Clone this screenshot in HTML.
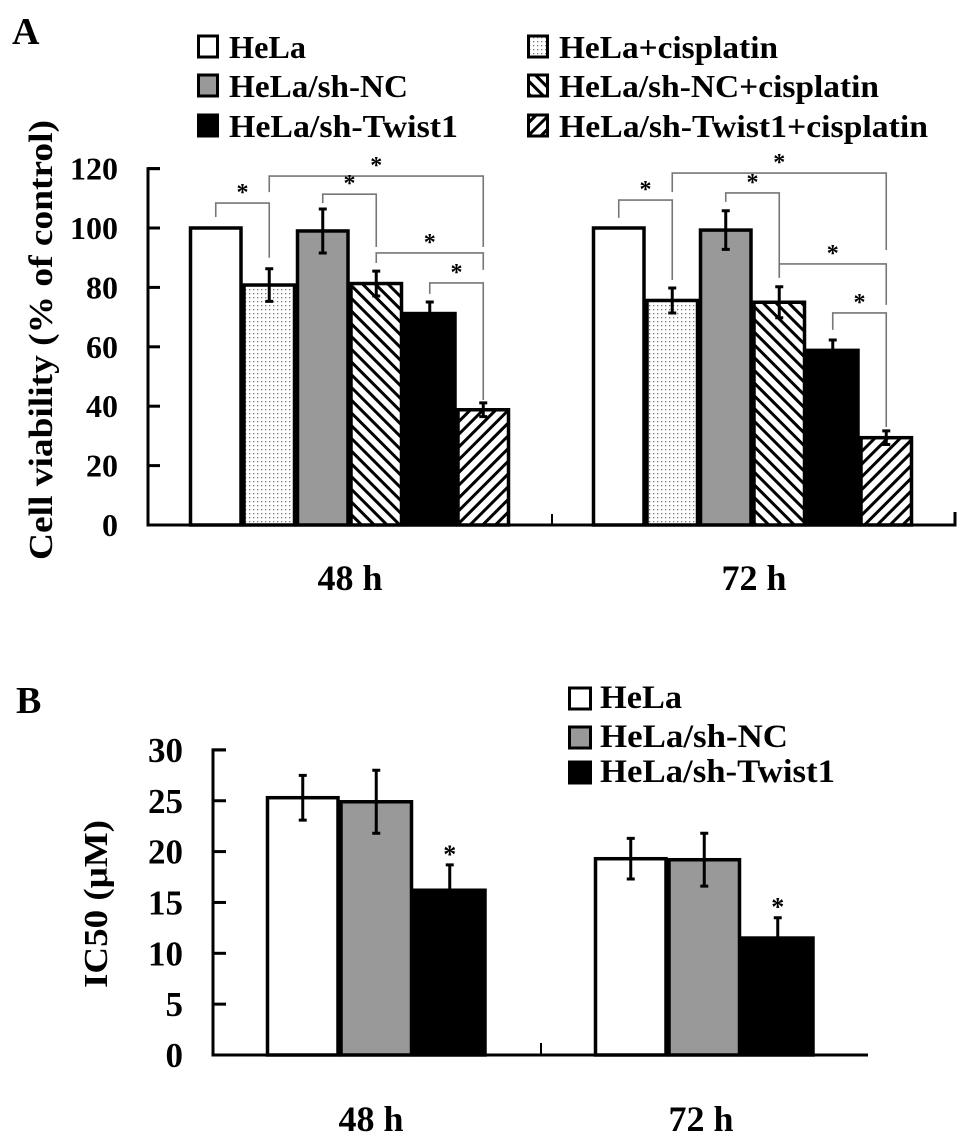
<!DOCTYPE html>
<html><head><meta charset="utf-8"><style>
html,body{margin:0;padding:0;background:#fff;}
svg{display:block;}
text{font-family:"Liberation Serif",serif;font-weight:bold;fill:#000;}
</style></head><body>
<svg id="fig" width="969" height="1136" viewBox="0 0 969 1136" xmlns="http://www.w3.org/2000/svg">
<defs>
<pattern id="dots" width="4" height="4" patternUnits="userSpaceOnUse"><rect width="4" height="4" fill="#fff"/><rect x="1" y="1" width="1.3" height="1.3" fill="#777"/></pattern>
<pattern id="back" width="9" height="9" patternUnits="userSpaceOnUse" patternTransform="rotate(-45)"><rect width="9" height="9" fill="#fff"/><rect x="0" y="0" width="3" height="9" fill="#000"/></pattern>
<pattern id="fwd" width="9" height="9" patternUnits="userSpaceOnUse" patternTransform="rotate(45)"><rect width="9" height="9" fill="#fff"/><rect x="0" y="0" width="3" height="9" fill="#000"/></pattern>
</defs>
<g id="panelA"></g>
<g id="panelB"></g>
</svg>
<script>
// ---- Panel A data ----
const aGroups = ["48 h", "72 h"];
const aSeries = ["HeLa","HeLa+cisplatin","HeLa/sh-NC","HeLa/sh-NC+cisplatin","HeLa/sh-Twist1","HeLa/sh-Twist1+cisplatin"];
const a48 = [100, 80.8, 99.0, 81.3, 71.2, 38.8];
const a72 = [100, 75.6, 99.3, 75.0, 58.8, 29.4];
const a48Err = [0, 5.5, 7.4, 4.2, 3.9, 2.3];
const a72Err = [0, 4.2, 6.5, 5.2, 3.5, 2.3];
const aTicks = [0, 20, 40, 60, 80, 100, 120];
// brackets: [i, j, level, leftEnd, rightEnd]
const a48Brackets = [[0,1,108.4,103.7,90],[1,5,117.5,112.1,93.6],[2,3,111.4,108.4,93.6],[3,5,91.6,88.2,85.9],[4,5,81.5,77.8,42.1]];
const a72Brackets = [[0,1,109.4,103.4,82.5],[1,5,118.5,112.1,92.6],[2,3,111.8,108.8,83.2],[3,5,87.9,83.5,74.1],[4,5,71.4,65.7,33]];
// ---- Panel B data ----
const bGroups = ["48 h", "72 h"];
const bSeries = ["HeLa","HeLa/sh-NC","HeLa/sh-Twist1"];
const b48 = [25.3, 24.9, 16.2];
const b72 = [19.3, 19.2, 11.5];
const b48Err = [2.2, 3.1, 2.5];
const b72Err = [2.0, 2.6, 2.0];
const bTicks = [0, 5, 10, 15, 20, 25, 30];

const NS = "http://www.w3.org/2000/svg";
function mk(parent, tag, attrs, txt){
  const e = document.createElementNS(NS, tag);
  for (const k in attrs) e.setAttribute(k, attrs[k]);
  if (txt !== undefined) e.textContent = txt;
  parent.appendChild(e); return e;
}
const aFills = ["#fff","url(#dots)","#999","url(#back)","#000","url(#fwd)"];
const bFills = ["#fff","#999","#000"];

// ===== Panel A =====
const A = document.getElementById('panelA');
const ay = v => 525 - v * 2.97;
const aBarW = 53.5, aStarts = [189, 592];
let t = mk(A,'text',{x:12,y:44,'font-size':38}, 'A');


// legend
const legA = [[197,58,0],[197,97,2],[197,137,4],[527,58,1],[527,97,3],[527,137,5]];
const legAW = [77,179,229,219,320,369];
legA.forEach(([x,y,s],k)=>{
  const g = mk(A,'g',{});
  
  
  mk(g,'rect',{x:x+1.5,y:y-22,width:19,height:21,fill:aFills[s],stroke:'#000','stroke-width':3});
  mk(g,'text',{x:x+32,y:y,'font-size':32,textLength:legAW[k],lengthAdjust:'spacingAndGlyphs'}, aSeries[s]);
});
// axes
let ax = mk(A,'path',{d:`M160 ${ay(120)} H148 V525 H955 V512`,fill:'none',stroke:'#000','stroke-width':3});


mk(A,'path',{d:'M552 525 V514',stroke:'#000','stroke-width':2});
aTicks.forEach(v=>{
  mk(A,'path',{d:`M148 ${ay(v)} H160`,stroke:'#000','stroke-width':3});
  const tl = mk(A,'text',{x:118,y:ay(v)+11,'font-size':32,'text-anchor':'end'}, String(v));
  
  
});
let yl = mk(A,'text',{x:0,y:0,'font-size':34,'text-anchor':'middle',transform:'translate(52,340) rotate(-90)',textLength:440,lengthAdjust:'spacingAndGlyphs'},'Cell viability (% of control)');


[a48,a72].forEach((vals,gi)=>{
  const errs = gi===0 ? a48Err : a72Err;
  const brs = gi===0 ? a48Brackets : a72Brackets;
  const x0 = aStarts[gi];
  const cx = i => x0 + aBarW*i + aBarW/2;
  vals.forEach((v,i)=>{
    const r = mk(A,'rect',{x:x0+aBarW*i+1.5,y:ay(v),width:aBarW-3,height:525-ay(v),fill:aFills[i],stroke:'#000','stroke-width':3.5});
    
    
    const e = errs[i];
    if (e>0){
      const lo = i===4 ? v : v-e;
      mk(A,'path',{d:`M${cx(i)} ${ay(v+e)} V${ay(lo)} M${cx(i)-4} ${ay(v+e)} H${cx(i)+4}`+(i===4?'':` M${cx(i)-4} ${ay(lo)} H${cx(i)+4}`),stroke:'#000','stroke-width':3,fill:'none'});
    }
  });
  brs.forEach(([i,j,lv,le,re])=>{
    const p = mk(A,'path',{d:`M${cx(i)} ${ay(le)} V${ay(lv)} H${cx(j)} V${ay(re)}`,fill:'none',stroke:'#777','stroke-width':1.6});
    
    
    mk(A,'text',{x:(cx(i)+cx(j))/2,y:ay(lv)-3,'font-size':24,'font-weight':'normal','text-anchor':'middle'},'*');
  });
  const cl = mk(A,'text',{x:[350,754][gi],y:590,'font-size':36,'text-anchor':'middle'},aGroups[gi]);
  
  
});

// ===== Panel B =====
const B = document.getElementById('panelB');
const by = v => 1055 - v * 10.17;
const bBarW = 73.5, bStarts = [266, 594];
t = mk(B,'text',{x:16,y:713,'font-size':38}, 'B');


const legBW = [82,188,235];
bSeries.forEach((s,k)=>{
  const y = [708,747,782][k];
  const g = mk(B,'g',{});
  
  
  mk(g,'rect',{x:569.5,y:y-20,width:21,height:21,fill:bFills[k],stroke:'#000','stroke-width':3});
  mk(g,'text',{x:600,y:y,'font-size':33,textLength:legBW[k],lengthAdjust:'spacingAndGlyphs'},s);
});
ax = mk(B,'path',{d:`M226 ${by(30)} H213 V1055 H868`,fill:'none',stroke:'#000','stroke-width':3});


mk(B,'path',{d:'M541 1055 V1043',stroke:'#000','stroke-width':2});
bTicks.forEach(v=>{
  mk(B,'path',{d:`M213 ${by(v)} H226`,stroke:'#000','stroke-width':3});
  const tl = mk(B,'text',{x:183,y:by(v)+12,'font-size':35,'text-anchor':'end'}, String(v));
  
  
});
yl = mk(B,'text',{x:0,y:0,'font-size':34,'text-anchor':'middle',transform:'translate(107,904) rotate(-90)',textLength:168,lengthAdjust:'spacingAndGlyphs'},'IC50 (μM)');


[b48,b72].forEach((vals,gi)=>{
  const errs = gi===0 ? b48Err : b72Err;
  const x0 = bStarts[gi];
  const cx = i => x0 + bBarW*i + bBarW/2;
  vals.forEach((v,i)=>{
    const r = mk(B,'rect',{x:x0+bBarW*i+1.5,y:by(v),width:bBarW-3,height:1055-by(v),fill:bFills[i],stroke:'#000','stroke-width':3.5});
    
    
    const e = errs[i];
    const lo = i===2 ? v : v-e;
    mk(B,'path',{d:`M${cx(i)} ${by(v+e)} V${by(lo)} M${cx(i)-4} ${by(v+e)} H${cx(i)+4}`+(i===2?'':` M${cx(i)-4} ${by(lo)} H${cx(i)+4}`),stroke:'#000','stroke-width':3,fill:'none'});
    if (i===2){
      const st = mk(B,'text',{x:cx(i),y:by(v+e)-2,'font-size':26,'font-weight':'normal','text-anchor':'middle'},'*');
      
      
    }
  });
  const cl = mk(B,'text',{x:[371,701][gi],y:1131,'font-size':36,'text-anchor':'middle'},bGroups[gi]);
  
  
});
</script>
</body></html>
